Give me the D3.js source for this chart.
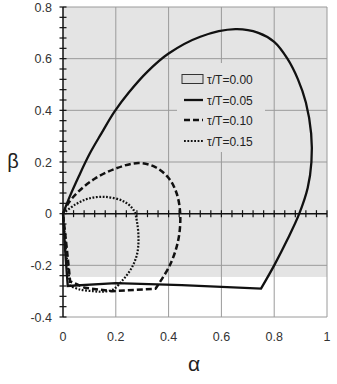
<!DOCTYPE html>
<html>
<head>
<meta charset="utf-8">
<script src="https://cdn.jsdelivr.net/npm/d3@7"></script>
<style>
  body { margin: 0; background: #fff; }
  svg text { font-family: "Liberation Sans", Arial, sans-serif; }
</style>
</head>
<body>
<div id="chart"></div>
<script>
// tick values
var xTicks = [0, 0.2, 0.4, 0.6, 0.8, 1];
var yTicks = [-0.4, -0.2, 0, 0.2, 0.4, 0.6, 0.8];
var xTickLabels = ["0", "0.2", "0.4", "0.6", "0.8", "1"];
var yTickLabels = ["-0.4", "-0.2", "0", "0.2", "0.4", "0.6", "0.8"];

// tau/T = 0.00 region (alpha range, beta range)
var region000 = [[0, -0.245], [1, 0.8]];

// tau/T = 0.05 : smooth arc, then straight base back to origin
var arc005 = [[0,0],[0.025,0.065],[0.06,0.145],[0.10,0.23],[0.145,0.31],[0.195,0.395],
  [0.25,0.47],[0.32,0.55],[0.40,0.62],[0.52,0.685],[0.653,0.714],[0.74,0.70],
  [0.80,0.665],[0.85,0.60],[0.89,0.52],[0.92,0.43],[0.94,0.31],[0.941,0.2],[0.927,0.10],[0.895,0],
  [0.85,-0.1],[0.80,-0.2],[0.75,-0.29]];
var base005 = [[0.45,-0.277],[0.2,-0.269],[0.018,-0.28],[0.008,-0.14],[0,0]];

// tau/T = 0.10
var arc010 = [[0,0],[0.02,0.04],[0.058,0.085],[0.12,0.135],[0.2,0.175],[0.286,0.196],
  [0.35,0.18],[0.40,0.138],[0.43,0.08],[0.444,0],[0.437,-0.1],[0.406,-0.197],[0.35,-0.291]];
var base010 = [[0.185,-0.30],[0.083,-0.287],[0.027,-0.262],[0.015,-0.14],[0,0]];

// tau/T = 0.15
var arc015 = [[0,0],[0.046,0.035],[0.095,0.058],[0.16,0.065],[0.229,0.048],[0.267,0.015],
  [0.28,-0.03],[0.286,-0.1],[0.28,-0.159],[0.26,-0.21],[0.228,-0.255],[0.19,-0.293],
  [0.15,-0.302],[0.114,-0.30],[0.065,-0.294],[0.027,-0.28]];
var base015 = [[0.012,-0.15],[0,0]];

var legendLabels = ["τ/T=0.00", "τ/T=0.05", "τ/T=0.10", "τ/T=0.15"];

var W = 337, H = 384;
var svg = d3.select("#chart").append("svg").attr("width", W).attr("height", H);

var x = d3.scaleLinear().domain([0, 1]).range([63, 327]);
var y = d3.scaleLinear().domain([-0.4, 0.8]).range([317, 7]);

// grey region
svg.append("rect")
  .attr("x", x(region000[0][0]))
  .attr("y", y(region000[1][1]))
  .attr("width", x(region000[1][0]) - x(region000[0][0]))
  .attr("height", y(region000[0][1]) - y(region000[1][1]))
  .attr("fill", "#e4e4e4");

// grid
var gridX = d3.range(0.2, 1.01, 0.2);
svg.append("g").selectAll("line").data(gridX).enter().append("line")
  .attr("x1", d => x(d)).attr("x2", d => x(d))
  .attr("y1", y(0.8)).attr("y2", y(-0.4))
  .attr("stroke", "#9a9a9a").attr("stroke-width", 1);
svg.append("g").selectAll("line").data(yTicks.filter(d => d != 0)).enter().append("line")
  .attr("x1", x(0)).attr("x2", x(1))
  .attr("y1", d => y(d)).attr("y2", d => y(d))
  .attr("stroke", "#9a9a9a").attr("stroke-width", 1);

// legend background hides grid
svg.append("rect")
  .attr("x", 177).attr("y", 63).attr("width", 88).attr("height", 89)
  .attr("fill", "#e4e4e4");

// left axis with crossing minor ticks
svg.append("line")
  .attr("x1", x(0)).attr("x2", x(0)).attr("y1", y(0.8)).attr("y2", y(-0.4))
  .attr("stroke", "#111").attr("stroke-width", 1.5);
var minorY = d3.range(0, 31).map(i => -0.4 + i * 0.04);
svg.append("g").selectAll("line").data(minorY).enter().append("line")
  .attr("x1", x(0) - 3.5).attr("x2", x(0) + 3.5)
  .attr("y1", d => y(d)).attr("y2", d => y(d))
  .attr("stroke", "#111").attr("stroke-width", 1.2);

// horizontal axis at beta = 0
svg.append("line")
  .attr("x1", x(0)).attr("x2", x(1)).attr("y1", y(0)).attr("y2", y(0))
  .attr("stroke", "#111").attr("stroke-width", 1.5);
var minorX = d3.range(1, 26).map(i => i * 0.04);
svg.append("g").selectAll("line").data(minorX).enter().append("line")
  .attr("x1", d => x(d)).attr("x2", d => x(d))
  .attr("y1", y(0) - 3.5).attr("y2", y(0) + 3.5)
  .attr("stroke", "#111").attr("stroke-width", 1.2);

// tick labels
svg.append("g").selectAll("text").data(yTicks).enter().append("text")
  .attr("x", 52).attr("y", d => y(d) + 4.5)
  .attr("text-anchor", "end")
  .attr("style", "font-size:12.5px;fill:#333")
  .text((d, i) => yTickLabels[i]);
svg.append("g").selectAll("text").data(xTicks).enter().append("text")
  .attr("x", d => x(d)).attr("y", 341)
  .attr("text-anchor", "middle")
  .attr("style", "font-size:12.5px;fill:#333")
  .text((d, i) => xTickLabels[i]);

// axis titles
svg.append("text").attr("x", 13).attr("y", 168).attr("text-anchor", "middle")
  .attr("style", "font-size:20px;fill:#222").text("β");
svg.append("text").attr("x", 194).attr("y", 371).attr("text-anchor", "middle")
  .attr("style", "font-size:21px;fill:#222").text("α");

// curves
var smooth = d3.line().x(d => x(d[0])).y(d => y(d[1])).curve(d3.curveCatmullRom.alpha(0.5));
function loopPath(arc, base) {
  return smooth(arc) + base.map(p => "L" + x(p[0]) + "," + y(p[1])).join("");
}
var series = [
  { arc: arc005, base: base005, dash: null, w: 2.3 },
  { arc: arc010, base: base010, dash: "6,3", w: 2.5 },
  { arc: arc015, base: base015, dash: "1.8,1.6", w: 2.2 }
];
series.forEach(function(s) {
  svg.append("path")
    .attr("d", loopPath(s.arc, s.base))
    .attr("fill", "none")
    .attr("stroke", "#111")
    .attr("stroke-width", s.w)
    .attr("stroke-linejoin", "miter")
    .attr("stroke-dasharray", s.dash);
});

// legend
var leg = svg.append("g");
var rowY = [79, 100, 120, 141];
leg.append("rect")
  .attr("x", 182).attr("y", rowY[0] - 4.5).attr("width", 21).attr("height", 9)
  .attr("fill", "#dcdcdc").attr("stroke", "#333").attr("stroke-width", 1);
series.forEach(function(s, i) {
  leg.append("line")
    .attr("x1", 184).attr("x2", 203)
    .attr("y1", rowY[i + 1]).attr("y2", rowY[i + 1])
    .attr("stroke", "#111").attr("stroke-width", s.w)
    .attr("stroke-dasharray", s.dash);
});
leg.selectAll("text").data(legendLabels).enter().append("text")
  .attr("x", 207).attr("y", (d, i) => rowY[i] + 4.5)
  .attr("style", "font-size:12px;fill:#222")
  .text(d => d);
</script>
</body>
</html>
